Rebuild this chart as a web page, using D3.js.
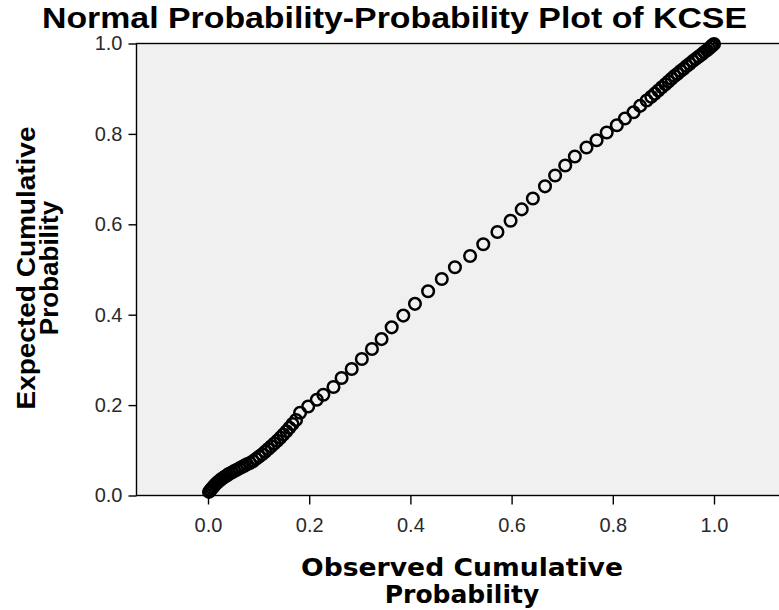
<!DOCTYPE html>
<html><head><meta charset="utf-8">
<script src="https://cdn.jsdelivr.net/npm/d3@7"></script>
<style>html,body{margin:0;padding:0;background:#fff;}svg{display:block;}</style>
</head><body>
<script>
const title = "Normal Probability-Probability Plot of KCSE";
const xLabel = ["Observed Cumulative", "Probability"];
const yLabel = ["Expected Cumulative", "Probability"];
const tickValues = [0.0, 0.2, 0.4, 0.6, 0.8, 1.0];

// Observed cumulative probability (x) and expected cumulative probability (y)
const observed = [
  0.002,0.005,0.008,0.011,0.014,0.018,0.022,0.026,0.030,0.034,0.038,0.042,0.047,0.052,0.057,0.062,0.067,0.072,0.077,
  0.083,0.089,0.095,0.101,0.107,0.113,0.119,0.125,0.131,0.137,0.143,0.149,0.155,0.161,0.167,0.174,
  0.182,0.198,0.215,0.228,0.248,0.264,0.284,0.304,0.324,0.343,0.363,0.386,0.409,
  0.435,0.462,0.488,0.518,0.544,0.572,0.598,0.620,0.642,0.666,
  0.686,0.706,0.725,0.748,0.768,0.788,0.808,0.824,0.841,0.854,0.867,
  0.876,0.883,0.890,0.897,0.904,0.910,0.916,0.922,0.928,0.934,0.940,0.946,0.952,0.958,0.964,0.970,0.976,0.981,0.986,0.990,0.994,0.997,1.000
];
const expected = [
  0.008,0.012,0.016,0.020,0.024,0.028,0.032,0.036,0.039,0.042,0.045,0.048,0.051,0.054,0.057,0.060,0.063,0.066,0.069,
  0.072,0.076,0.081,0.086,0.091,0.097,0.103,0.109,0.115,0.121,0.128,0.135,0.142,0.150,0.158,0.167,
  0.183,0.197,0.212,0.223,0.240,0.260,0.280,0.302,0.324,0.346,0.372,0.398,0.424,
  0.452,0.479,0.505,0.530,0.556,0.583,0.608,0.633,0.657,0.684,
  0.708,0.730,0.750,0.770,0.786,0.803,0.819,0.834,0.848,0.862,0.874,
  0.882,0.889,0.896,0.903,0.910,0.916,0.922,0.928,0.933,0.939,0.944,0.950,0.955,0.961,0.966,0.971,0.976,0.981,0.985,0.989,0.993,0.996,0.999
];

const W = 779, H = 610;
const svg = d3.select("body").append("svg").attr("width", W).attr("height", H);

const x = d3.scaleLinear().domain([0, 1]).range([208, 714]);
const y = d3.scaleLinear().domain([0, 1]).range([495.5, 43.5]);
const pLeft = 136.5, pTop = 43.5, pBottom = 495.5, pRight = W + 10;

svg.append("rect").attr("x", pLeft).attr("y", pTop).attr("width", pRight - pLeft).attr("height", pBottom - pTop)
  .attr("fill", "#f0f0f0").attr("stroke", "#000").attr("stroke-width", 1.4);

// Title
svg.append("text").attr("x", 42).attr("y", 28)
  .attr("font-family", "Liberation Sans, Arial, sans-serif").attr("font-size", 29).attr("font-weight", "bold")
  .attr("textLength", 705).attr("lengthAdjust", "spacingAndGlyphs")
  .attr("fill", "#000").text(title);

// Y axis
const yAxis = d3.axisLeft(y).tickValues(tickValues).tickFormat(d3.format(".1f")).tickSize(8).tickPadding(6);
const gy = svg.append("g").attr("transform", `translate(${pLeft},0)`).call(yAxis);
gy.select(".domain").remove();
gy.selectAll("line").attr("stroke", "#000").attr("stroke-width", 1.4);
gy.selectAll("text").attr("font-family", "Liberation Sans, Arial, sans-serif").attr("font-size", 20).attr("fill", "#2a2a2a");

// X axis
const xAxis = d3.axisBottom(x).tickValues(tickValues).tickFormat(d3.format(".1f")).tickSize(9).tickPadding(13);
const gx = svg.append("g").attr("transform", `translate(0,${pBottom})`).call(xAxis);
gx.select(".domain").remove();
gx.selectAll("line").attr("stroke", "#000").attr("stroke-width", 1.4);
gx.selectAll("text").attr("font-family", "Liberation Sans, Arial, sans-serif").attr("font-size", 20).attr("fill", "#2a2a2a");

// axis labels
const xl = svg.append("text").attr("text-anchor", "middle")
  .attr("font-family", "DejaVu Sans, Verdana, sans-serif").attr("font-weight", "bold").attr("font-size", 25).attr("fill", "#000");
xl.append("tspan").attr("x", 462).attr("y", 576).attr("textLength", 322).attr("lengthAdjust", "spacingAndGlyphs").text(xLabel[0]);
xl.append("tspan").attr("x", 462).attr("y", 603).text(xLabel[1]);

const yl = svg.append("text").attr("text-anchor", "middle").attr("transform", "rotate(-90)")
  .attr("font-family", "Liberation Sans, Arial, sans-serif").attr("font-weight", "bold").attr("font-size", 26).attr("fill", "#000");
yl.append("tspan").attr("x", -268).attr("y", 35).attr("textLength", 283).attr("lengthAdjust", "spacingAndGlyphs").text(yLabel[0]);
yl.append("tspan").attr("x", -268).attr("y", 58).text(yLabel[1]);

// points
const pts = observed.map((o, i) => ({o, e: expected[i]}));
svg.append("g").selectAll("circle").data(pts).join("circle")
  .attr("cx", d => x(d.o)).attr("cy", d => y(d.e)).attr("r", 5.8)
  .attr("fill", "none").attr("stroke", "#000").attr("stroke-width", 2.5);
</script>
</body></html>
